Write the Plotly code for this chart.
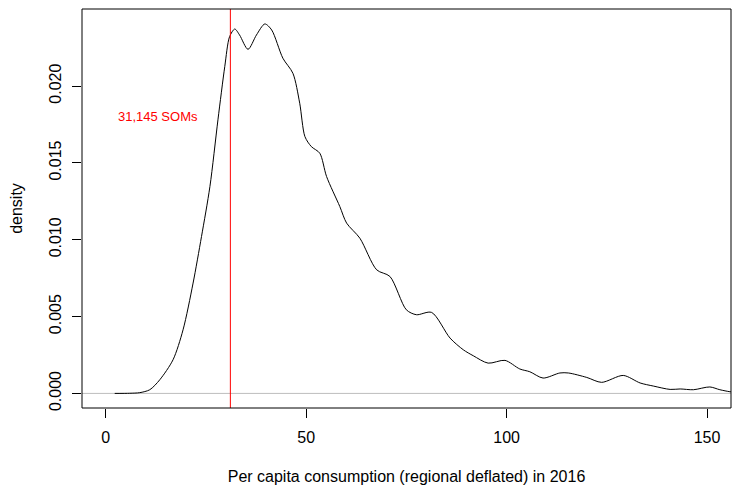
import plotly.graph_objects as go

# Density curve
cons_x = [2.25, 6.0, 8.5, 11.0, 13.5, 16.8, 19.3, 21.8, 23.9, 26.0, 28.0, 29.7, 30.9,
          32.2, 33.4, 35.5, 37.6, 39.7, 41.4, 44.2, 46.7, 48.4, 49.7, 51.3, 53.4,
          55.1, 58.4, 60.1, 63.4, 67.6, 70.9, 75.0, 77.5, 81.3, 85.9, 89.2, 91.7,
          95.4, 99.6, 103.3, 105.8, 109.1, 113.3, 115.4, 120.0, 123.7, 129.1, 133.3,
          136.6, 140.8, 143.3, 146.6, 150.7, 153.2, 155.7, 157.0]
density = [0.0, 0.00001, 0.00005, 0.00024, 0.00089, 0.00219, 0.00414, 0.00718, 0.01021,
           0.01346, 0.01780, 0.02126, 0.02321, 0.02371, 0.02332, 0.02239, 0.02332,
           0.02404, 0.02365, 0.02181, 0.02083, 0.01888, 0.01671, 0.01606, 0.01563,
           0.01411, 0.01216, 0.01108, 0.01010, 0.00804, 0.00761, 0.00544, 0.00512,
           0.00527, 0.00360, 0.00284, 0.00245, 0.00197, 0.00215, 0.00159, 0.00141,
           0.00100, 0.00133, 0.00133, 0.00104, 0.00072, 0.00117, 0.00068, 0.00048,
           0.00026, 0.00029, 0.00024, 0.00042, 0.00024, 0.00011, 0.00008]

vline_x = 31.1
label_text = "31,145 SOMs"
label_x = 13.05
label_y = 0.0180

x_ticks = [0, 50, 100, 150]
y_ticks = [0.000, 0.005, 0.010, 0.015, 0.020]

FONT = "Liberation Sans, Arial, sans-serif"

fig = go.Figure()
fig.add_trace(go.Scatter(x=cons_x, y=density, mode="lines",
                         line=dict(color="black", width=1, shape="spline", smoothing=0.8),
                         hoverinfo="skip", showlegend=False))

fig.add_shape(type="line", xref="paper", yref="y", x0=0, x1=1, y0=0, y1=0,
              line=dict(color="#BEBEBE", width=1), layer="below")
fig.add_shape(type="line", xref="x", yref="paper", x0=vline_x, x1=vline_x, y0=0, y1=1,
              line=dict(color="#FF0000", width=1))
fig.add_shape(type="rect", xref="paper", yref="paper", x0=0, x1=1, y0=0, y1=1,
              line=dict(color="black", width=1))

fig.add_annotation(x=label_x, y=label_y, text=label_text, showarrow=False,
                   font=dict(family=FONT, size=13, color="#FF0000"),
                   xanchor="center", yanchor="middle")

fig.update_layout(
    width=732, height=485,
    margin=dict(l=82, r=1, t=9, b=77),
    plot_bgcolor="white", paper_bgcolor="white",
    font=dict(family=FONT, size=16, color="black"),
    xaxis=dict(range=[-5.91, 155.98], tickvals=x_ticks, ticktext=[str(v) for v in x_ticks],
               ticks="outside", ticklen=9, tickwidth=1, tickcolor="black",
               ticklabelstandoff=6,
               showgrid=False, zeroline=False, showline=False, automargin=False,
               tickfont=dict(size=16),
               title=dict(text="Per capita consumption (regional deflated) in 2016",
                          font=dict(size=16), standoff=26)),
    yaxis=dict(range=[-0.000949, 0.025013], tickvals=y_ticks,
               ticktext=[f"{v:.3f}" for v in y_ticks], tickangle=-90,
               ticks="outside", ticklen=9, tickwidth=1, tickcolor="black",
               ticklabelstandoff=5,
               showgrid=False, zeroline=False, showline=False, automargin=False,
               tickfont=dict(size=16),
               title=dict(text="density", font=dict(size=16), standoff=19)),
)

fig.write_html("out.html", config={"displayModeBar": False},
               post_script="document.body.style.margin='0';document.body.style.overflow='hidden';")
